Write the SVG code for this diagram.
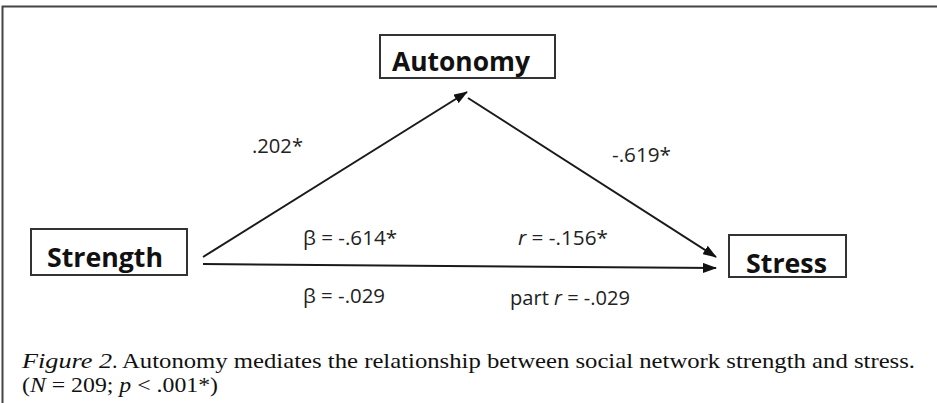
<svg xmlns="http://www.w3.org/2000/svg" width="937" height="403" viewBox="0 0 937 403">
<style>
.frame{stroke:#444;stroke-width:2;fill:none}
.box{fill:#fff;stroke:#333;stroke-width:2}
.node{font-family:"Open Sans","Liberation Sans",sans-serif;font-weight:bold;font-size:27px;fill:#111}
.lbl{font-family:"Open Sans","Liberation Sans",sans-serif;font-size:20px;fill:#222}
.cap{font-family:"Liberation Serif","Times New Roman",serif;font-size:22px;fill:#111}
.edge{stroke:#1a1a1a;stroke-width:2;fill:none}
</style>
<defs>
<marker id="ah" markerWidth="14" markerHeight="10" refX="13" refY="5" orient="auto" markerUnits="userSpaceOnUse">
<path d="M0,0 L14,5 L0,10 Z" fill="#111"/>
</marker>
</defs>
<rect width="937" height="403" fill="#fff"/>
<path class="frame" d="M2.5,403 L2.5,6.5 L937,6.5"/>
<g id="connectors">
<line class="edge" x1="203" y1="257" x2="467" y2="92" marker-end="url(#ah)"/>
<line class="edge" x1="468" y1="98" x2="716" y2="257" marker-end="url(#ah)"/>
<line class="edge" x1="203" y1="264" x2="716" y2="268" marker-end="url(#ah)"/>
</g>
<g id="autonomy">
<rect class="box" x="380" y="35" width="175" height="43"/>
<text class="node" x="392" y="71" textLength="138" lengthAdjust="spacingAndGlyphs">Autonomy</text>
</g>
<g id="strength">
<rect class="box" x="31" y="229" width="156" height="46"/>
<text class="node" x="47" y="267" textLength="116" lengthAdjust="spacingAndGlyphs">Strength</text>
</g>
<g id="stress">
<rect class="box" x="729" y="235" width="117" height="42"/>
<text class="node" x="746" y="273" textLength="81" lengthAdjust="spacingAndGlyphs">Stress</text>
</g>
<g id="labels">
<text class="lbl" x="252" y="153" textLength="51" lengthAdjust="spacingAndGlyphs">.202*</text>
<text class="lbl" x="612" y="162" textLength="59" lengthAdjust="spacingAndGlyphs">-.619*</text>
<text class="lbl" x="303" y="245" textLength="94" lengthAdjust="spacingAndGlyphs">β = -.614*</text>
<text class="lbl" x="518" y="245" textLength="90" lengthAdjust="spacingAndGlyphs"><tspan font-style="italic">r</tspan> = -.156*</text>
<text class="lbl" x="303" y="303" textLength="82" lengthAdjust="spacingAndGlyphs">β = -.029</text>
<text class="lbl" x="510" y="305" textLength="120" lengthAdjust="spacingAndGlyphs">part <tspan font-style="italic">r</tspan> = -.029</text>
</g>
<g id="caption">
<text class="cap" x="22" y="368" font-style="italic" textLength="90" lengthAdjust="spacingAndGlyphs">Figure 2</text>
<text class="cap" x="112" y="368">.</text>
<text class="cap" x="122" y="368" textLength="793" lengthAdjust="spacingAndGlyphs">Autonomy mediates the relationship between social network strength and stress.</text>
<text class="cap" x="22" y="392" textLength="196" lengthAdjust="spacingAndGlyphs">(<tspan font-style="italic">N</tspan> = 209; <tspan font-style="italic">p</tspan> &lt; .001*)</text>
</g>
</svg>
